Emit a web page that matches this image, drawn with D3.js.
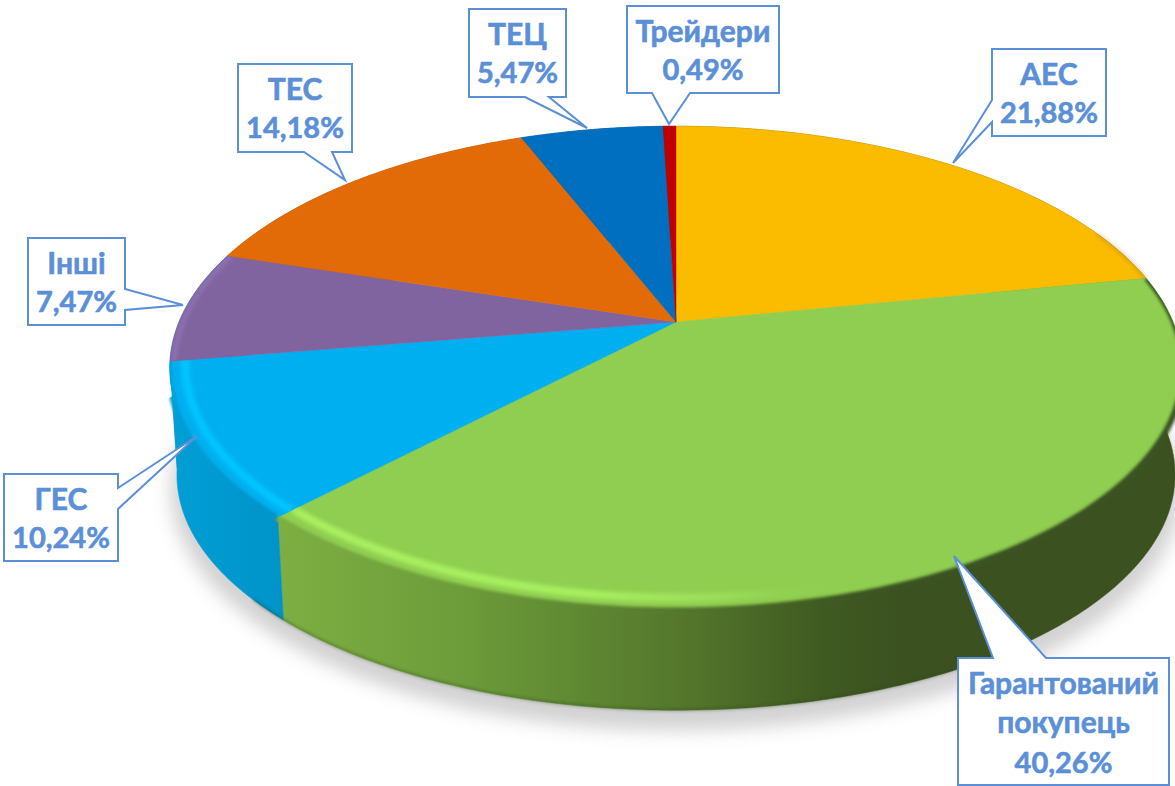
<!DOCTYPE html>
<html><head><meta charset="utf-8">
<script src="https://cdn.jsdelivr.net/npm/d3@7"></script>
<style>html,body{margin:0;padding:0;background:#fff;overflow:hidden}svg{display:block}</style>
</head><body><svg id="c" width="1175" height="786"></svg>
<script>
const categories=["АЕС","Гарантований покупець","ГЕС","Інші","ТЕС","ТЕЦ","Трейдери"];
const values=[21.88,40.26,10.24,7.47,14.18,5.47,0.49];
const valueLabels=["21,88%","40,26%","10,24%","7,47%","14,18%","5,47%","0,49%"];
const labelLines=[["АЕС"],["Гарантований","покупець"],["ГЕС"],["Інші"],["ТЕС"],["ТЕЦ"],["Трейдери"]];
const topColors=["#fbbc00","#8fce50","#00afef","#8064a0","#e26b07","#006fc0","#c00000"];
const sideColors=["#7d5e00","url(#wallGreen)","url(#wallBlue)","url(#wallBlue)","#9a4a05","#004c85","#800000"];
const rimColors=["none","url(#rimGreen)","#00c6ff","#9678be","none","none","none"];
const rimRadius=[0,.966,.97,.992,0,0,0];
const rimWidth=[0,8,8,3,0,0,0];
// callout boxes: x0,y0,x1,y1 and pointer (base a, tip, base b)
const callouts=[
 {box:[992,49,1106,136],ptr:[[992,100],[953,163],[992,122]]},
 {box:[958,658,1169,785],ptr:[[993,658],[954,556],[1046,658]]},
 {box:[4,474,118,561],ptr:[[118,488],[197,436],[118,509]]},
 {box:[28,238,125,325],ptr:[[125,289],[183,305],[125,310]]},
 {box:[238,64,352,152],ptr:[[304,152],[345,180],[332,152]]},
 {box:[469,9,566,97],ptr:[[525,97],[587,128],[549,97]]},
 {box:[627,6,779,93],ptr:[[652,93],[669,124],[690,93]]}
];
const svg=d3.select("#c");
const defs=svg.append("defs");
function grad(id,stops,x1,x2){
  const g=defs.append("linearGradient").attr("id",id).attr("gradientUnits","userSpaceOnUse")
    .attr("x1",x1).attr("x2",x2).attr("y1",0).attr("y2",0);
  stops.forEach(s=>g.append("stop").attr("offset",s[0]).attr("stop-color",s[1]).attr("stop-opacity",s[2]===undefined?1:s[2]));
}
grad("wallGreen",[[0,"#7dae42"],[.28,"#6d9d3a"],[.62,"#567a2d"],[.88,"#3f5a21"],[1,"#3b5220"]],283,900);
grad("wallBlue",[[0,"#009fd6"],[1,"#0092c8"]],170,290);
grad("rimGreen",[[0,"#aaf060"],[.55,"#a8f060"],[.8,"#9bdc58"],[1,"#8fce50",0]],283,840);
const blur=(id,s)=>defs.append("filter").attr("id",id).attr("x","-10%").attr("y","-10%").attr("width","120%").attr("height","120%")
  .append("feGaussianBlur").attr("stdDeviation",s);
blur("b1",1.4);blur("b2",2);blur("b9",9);

// perspective projection of the pie's plane
const K=0.19;
const topPlane={cx:676,cy:322,R:497,S:233};
const basePlane={cx:676,cy:430,R:490,S:227};
const pt=(p,a,r=1)=>{const u=Math.sin(a)*r,v=-Math.cos(a)*r,d=1-K*v;return [p.cx+p.R*u/d,p.cy+p.S*v/d];};
const arcPts=(p,a0,a1,r=1)=>{const n=Math.max(2,Math.ceil(Math.abs(a1-a0)/0.01));
  return d3.range(n+1).map(i=>pt(p,a0+(a1-a0)*i/n,r));};
const line=d3.line();
const arcs=d3.pie().sort(null).value(d=>d)(values);
const TAU=Math.PI*2;

// shadow
svg.append("path").attr("d",line(arcPts({cx:676,cy:444,R:496,S:232},0,TAU))+"Z")
  .attr("fill","#b4b4b4").attr("opacity",.6).attr("filter","url(#b9)");

// walls
svg.append("g").selectAll("path").data(arcs).join("path")
  .attr("d",d=>line(arcPts(topPlane,d.startAngle,d.endAngle).concat(arcPts(basePlane,d.endAngle,d.startAngle)))+"Z")
  .attr("fill",(d,i)=>sideColors[i]).attr("stroke",(d,i)=>sideColors[i]).attr("stroke-width",.5);
// dark bottom edge
svg.append("path").attr("d",line(arcPts(basePlane,2.6,4.0,0.999)))
  .attr("fill","none").attr("stroke","#2f4218").attr("stroke-opacity",.45).attr("stroke-width",2).attr("filter","url(#b1)");

// top faces
const slicePath=d=>line([[topPlane.cx,topPlane.cy]].concat(arcPts(topPlane,d.startAngle,d.endAngle)))+"Z";
// clip reaches slightly past the rim only where the wall lies directly behind it
const clipPath=d=>{
  const n=Math.ceil((d.endAngle-d.startAngle)/0.01);
  const rim=d3.range(n+1).map(i=>{const a=d.startAngle+(d.endAngle-d.startAngle)*i/n;
    return pt(topPlane,a,-Math.cos(a)>0.3?1.012:1);});
  return line([[topPlane.cx,topPlane.cy]].concat(rim))+"Z";
};
const faces=svg.append("g");
arcs.forEach((d,i)=>{
  defs.append("clipPath").attr("id","clip"+i).append("path").attr("d",clipPath(d));
});
faces.selectAll("path").data(arcs).join("path").attr("d",slicePath)
  .attr("fill",(d,i)=>topColors[i]).attr("stroke",(d,i)=>topColors[i]).attr("stroke-width",.5);

// rim bevel: highlight band, then soft fall-off into the wall colour
const rims=svg.append("g");
arcs.forEach((d,i)=>{
  if(rimColors[i]==="none")return;
  const holder=rims.append("g").attr("clip-path","url(#clip"+i+")");
  holder.append("path").attr("d",line(arcPts(topPlane,d.startAngle,d.endAngle,rimRadius[i])))
    .attr("fill","none").attr("stroke",rimColors[i]).attr("stroke-width",rimWidth[i]).attr("filter","url(#b2)");
  if(i<3) holder.append("path").attr("d",line(arcPts(topPlane,d.startAngle,d.endAngle,1.002)))
    .attr("fill","none").attr("stroke",sideColors[i]).attr("stroke-width",6).attr("filter","url(#b1)");
});
// thin dark edge on the right of the yellow slice
svg.append("path").attr("d",line(arcPts(topPlane,1.15,arcs[0].endAngle,.999)))
  .attr("fill","none").attr("stroke","#7d5e00").attr("stroke-opacity",.6).attr("stroke-width",1.5).attr("filter","url(#b2)");

// callouts
const g=svg.append("g").selectAll("g").data(callouts).join("g");
g.append("path").attr("d",c=>{
  const [x0,y0,x1,y1]=c.box;const[a,t,b]=c.ptr;
  const corners=[[x0,y0],[x1,y0],[x1,y1],[x0,y1]];
  const seq=[];const side=p=>p[1]===y0?0:p[0]===x1?1:p[1]===y1?2:3;
  const s=side(a);
  for(let k=0;k<4;k++){seq.push(corners[k]);
    if(k===s){
      const first=(s===0||s===2)?(a[0]<b[0]===(s===0)?a:b):(a[1]<b[1]===(s===1)?a:b);
      const second=first===a?b:a;seq.push(first,t,second);}
  }
  return line(seq)+"Z";})
 .attr("fill","#fff").attr("stroke","#5b8fd8").attr("stroke-width",2).attr("stroke-linejoin","miter");
g.each(function(c,i){
  const lines=labelLines[i].concat([valueLabels[i]]);
  const cx=(c.box[0]+c.box[2])/2;
  const gap=lines.length===3?39.5:38.5;
  d3.select(this).selectAll("text").data(lines).join("text")
    .attr("x",cx).attr("y",(t,j)=>c.box[1]+35.5+j*gap)
    .attr("text-anchor","middle").attr("font-family","Lato,'Noto Sans',sans-serif")
    .attr("font-weight",700).attr("font-size",(t,j)=>j===lines.length-1?29:30)
    .attr("fill","#5b8fd8").attr("stroke","#5b8fd8").attr("stroke-width",.6).text(t=>t);
});
</script></body></html>
